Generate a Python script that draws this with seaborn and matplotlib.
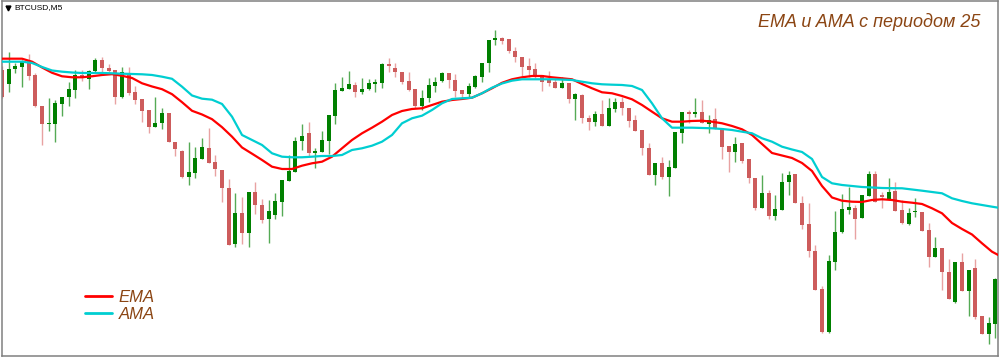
import matplotlib
matplotlib.use("Agg")
import matplotlib.pyplot as plt
from matplotlib.font_manager import FontProperties
import seaborn as sns
import pandas as pd
import numpy as np

# ---- candle data (BTCUSD, M5), price units ----
opens = [290, 276, 291, 293.3, 299.3, 285, 254, 235.7, 236, 256,
         262.7, 270, 285, 281, 289.3, 300, 291.7, 290, 263.3, 286.7,
         268.3, 260.7, 250, 233, 236.7, 247.3, 218, 209.3, 182.7, 186.7,
         201, 212.3, 197.7, 190, 172.3, 116, 147.3, 127, 168.3, 155,
         140.7, 145, 158.3, 179.3, 188.3, 219.3, 227.3, 207, 208.3, 219,
         244.3, 269.3, 271, 275, 268.3, 271, 276, 276.7, 295.7, 292.3,
         288.3, 279.3, 270.7, 254, 261.7, 274.3, 279, 286.7, 280, 270,
         266, 273.3, 283.3, 296.7, 320, 321.7, 320.7, 309.3, 303.3, 294,
         290.7, 285, 280, 277.7, 271.7, 276.7, 261, 265, 241.7, 237.7,
         245.7, 234.3, 250.7, 257.7, 252.3, 240, 230, 211.7, 185, 196.7,
         182.7, 191.7, 227.3, 247.7, 246, 248.3, 236, 240.7, 231.7, 214,
         208.3, 217.3, 201, 181.7, 151.7, 166.7, 144, 150, 177.7, 185.7,
         157.3, 135.7, 109, 70.7, 27.7, 98.3, 127.7, 150, 151.7, 141.7,
         164, 185.7, 165, 161, 169, 150, 136, 147.7, 147.7, 130,
         103.3, 112.3, 87.7, 58.3, 98.3, 69.3, 91.7, 44, 26, 36]
highs = [294, 307.7, 296.7, 300, 305.7, 286.7, 254, 262.3, 260, 263.3,
         278.3, 290, 290, 290, 302.3, 302.7, 295.7, 290, 293.3, 293.3,
         274.3, 261, 250, 263.3, 252.3, 247.3, 218.3, 210, 218.3, 213.3,
         221.7, 231.7, 205, 190, 180.7, 166.7, 163.3, 168, 177.5, 160.7,
         160, 167.3, 180, 205, 223.3, 236, 238.3, 212.3, 229, 245,
         276.7, 283.3, 289, 278.3, 281.7, 281, 281, 296.7, 301.7, 296.7,
         288.3, 288.3, 270.7, 270, 281.7, 282.7, 288.3, 286.7, 285.7, 270,
         276.7, 285, 296.7, 320, 330, 323.3, 320.7, 313.3, 303.3, 302.3,
         296.7, 285, 289, 281.7, 282.7, 276.7, 267.3, 265.7, 245, 249,
         260, 261.7, 261.7, 263.3, 252.3, 245, 230, 216.7, 197.3, 202.7,
         200, 227.7, 247.7, 250, 261.7, 260, 245, 251.7, 231.7, 214,
         222.7, 217.3, 201, 181.7, 185, 170, 165, 186.7, 189.3, 185.7,
         164, 157.3, 115, 74.3, 105, 149.3, 166, 173.3, 155, 165,
         189.3, 189.3, 168.3, 181.7, 177.7, 160, 151.7, 161.7, 147.7, 136.7,
         123.3, 112.3, 101, 98.3, 106.7, 90, 100.7, 44, 43.3, 81.7]
lows = [262, 267.7, 286.7, 272.7, 280, 253.3, 215, 229.3, 218.3, 244.3,
        254.3, 261.7, 279.3, 271, 288.3, 285, 287.7, 256, 261.7, 265,
        256, 238.3, 226.7, 233, 231, 217.7, 204, 182.3, 175, 182.3,
        201, 196.7, 184.3, 158.3, 115, 113.3, 116, 113, 146, 136.7,
        117.3, 140.7, 144.3, 179, 188, 210, 202.7, 192.3, 208, 205.7,
        236, 269, 271, 263.3, 265.7, 270, 268.3, 272.3, 288.3, 283.3,
        276, 269.3, 251.7, 250, 257.7, 268.3, 278.3, 271.7, 263.3, 261.7,
        261.7, 271.7, 278.3, 288.3, 315, 316, 306.7, 298.3, 284, 283.3,
        281.7, 269.3, 274, 271.7, 271.7, 257.3, 240, 237.3, 230, 234.3,
        234, 234.3, 248.3, 245, 233.3, 229.3, 205, 185, 175, 180.7,
        164.3, 191.7, 216.7, 236.7, 243.3, 236.7, 227.3, 231, 201, 187.7,
        198.3, 196.7, 177.3, 150, 151.7, 140.7, 140, 150, 165, 156.7,
        130.7, 102.7, 70, 27.3, 26.7, 90, 126.7, 146, 120.7, 141.7,
        164, 158.3, 151.7, 160, 149.3, 136, 135, 143.3, 129, 92.7,
        102.7, 70, 61, 57.3, 69.3, 44, 40.7, 26, 16, 21.7]
closes = [263, 291, 294.3, 299, 284.3, 254, 235.7, 237.3, 256.7, 263.3,
          270.7, 285, 281.7, 289, 300, 291.7, 289.3, 263.3, 288.3, 266.7,
          260, 249.3, 233.3, 237.3, 247.3, 218.3, 210.7, 182.7, 187.7, 201.7,
          212.7, 196.7, 191, 171.7, 115, 147.3, 126.7, 168, 154.5, 140,
          149, 159, 180, 189.3, 219, 224, 206.7, 209, 220, 245,
          270, 272.3, 276, 268.3, 271, 276.7, 277.3, 295.7, 293.7, 287.7,
          278.3, 270, 254, 262.3, 275, 278.3, 286.7, 280, 269.3, 266,
          274, 284, 296.7, 320, 321.7, 319, 309.3, 302.7, 293.3, 290,
          285, 278.3, 277.3, 272.3, 276.7, 261, 265.7, 241.7, 237.7, 245.7,
          234.3, 251.7, 257.7, 251.7, 239.3, 229.3, 211.7, 185, 196.7, 182.7,
          192.7, 227.7, 247.7, 246, 247.7, 236.7, 240, 231, 213.3, 208.3,
          216, 199.3, 181.7, 151.7, 166.7, 144, 150.7, 178.3, 185, 156.7,
          135, 109.3, 70, 28.3, 99, 128.3, 150.7, 153.3, 141, 165,
          185.7, 158.3, 163, 168.3, 149.3, 136.7, 147.3, 148.3, 129, 103.3,
          112.3, 87.7, 61, 98.3, 69.3, 90, 43.3, 26, 36.7, 80.7]

# ---- indicator lines (period 25), read every 1.5 bars ----
line_idx = [1.5 * k for k in range(101)]
ema_vals = [301.3, 301.3, 301.3, 298.3, 292.5, 287.2, 283.7, 282.7, 282.7, 283.7,
            285, 285.8, 284.2, 282, 276.7, 273.5, 270.8, 265.8, 257.8, 249.2,
            245.5, 240.8, 232.8, 223.3, 212.5, 206.3, 200, 193.3, 191, 191,
            194.3, 196.7, 198.3, 203.3, 211.7, 220, 226.7, 232.3, 238.3, 245,
            249, 251, 251.7, 255, 258.3, 260, 261, 262.3, 266.7, 271.7,
            277.2, 280.7, 282.7, 284, 284, 282.7, 281.7, 280.7, 276, 271.7,
            267.7, 266.7, 264, 260.7, 255, 248.3, 241.7, 238.3, 238.3, 239,
            239.3, 238.3, 236.7, 234, 230.7, 225, 216, 207, 204.5, 202,
            197, 189, 174, 162.5, 159.3, 158.3, 158, 160, 160.7, 160,
            158.3, 157.3, 156, 151.7, 146.7, 137, 131, 125.5, 116.7, 108.3,
            103]
ama_vals = [298.3, 298.3, 298.3, 297, 293, 289.5, 288.3, 287.5, 287, 287,
            287, 286.7, 286.3, 286, 285.7, 285, 283.3, 281.2, 273.3, 264.5,
            261.3, 260.3, 256, 243.3, 225, 220, 215, 206.7, 203.3, 202.7,
            202.7, 203.3, 204, 204, 205, 210, 211.7, 214.3, 218.3, 225,
            236.7, 241.7, 244.3, 250, 256.7, 261, 261.7, 262.3, 266.7, 272.3,
            276.5, 279.3, 280.7, 280.7, 280.7, 280.7, 280.4, 280, 278.3, 276.7,
            275.7, 275.3, 275, 274, 270, 256.7, 241.7, 232.3, 232.3, 232.3,
            232, 231.7, 231, 230, 228.3, 226.7, 221.7, 218.3, 213.3, 210.5,
            208, 201, 183, 176.7, 175, 174, 173, 172.5, 172, 171.8,
            171.7, 170.5, 169.3, 168, 166.7, 161.7, 159, 156.7, 155, 153.3,
            151.7]

title_text = "EMA и AMA с периодом 25"
symbol_text = "BTCUSD,M5"
brown = "#8B4513"

sns.set_style("white")
plt.rcParams["font.family"] = ["Liberation Sans", "DejaVu Sans"]

fig = plt.figure(figsize=(10, 3.58), dpi=100)
ax = fig.add_axes([0.0017, 0.0042, 0.9963, 0.9925])

df = pd.DataFrame({"o": opens, "h": highs, "l": lows, "c": closes})
df["i"] = np.arange(len(df))
up = df["c"] >= df["o"]

wick_cols = np.where(up, "#55AA55", "#E8A2A2")
body_cols = np.where(up, "#008000", "#CD5C5C")

ax.vlines(df["i"], df["l"], df["h"], colors=wick_cols, linewidth=1.0, zorder=1)
body_h = np.maximum((df["c"] - df["o"]).abs(), 1.5)
ax.bar(df["i"], body_h, bottom=np.minimum(df["o"], df["c"]), width=0.62,
       color=body_cols, linewidth=0, zorder=2)

sns.lineplot(x=line_idx, y=ema_vals, color="#FF0000", linewidth=1.6,
             ax=ax, label="EMA", estimator=None, zorder=3)
sns.lineplot(x=line_idx, y=ama_vals, color="#00CED1", linewidth=1.6,
             ax=ax, label="AMA", estimator=None, zorder=3)

ax.set_xlim(-0.05, 149.4)
ax.set_ylim(3.5, 358.8)
ax.set_xticks([])
ax.set_yticks([])
ax.set_xlabel("")
ax.set_ylabel("")
for s in ax.spines.values():
    s.set_color("#808080")
    s.set_linewidth(1.1)
    s.set_visible(True)

leg_font = FontProperties(family="Liberation Sans", style="italic", size=12)
leg = ax.legend(loc="center left", bbox_to_anchor=(0.085, 1 - 306 / 358),
                bbox_transform=fig.transFigure, frameon=False,
                handlelength=1.6, handletextpad=0.4, borderpad=0,
                borderaxespad=0, labelspacing=0.15, prop=leg_font)
for t in leg.get_texts():
    t.set_color(brown)
for h in leg.get_lines():
    h.set_linewidth(2.0)

fig.text(0.980, 1 - 22 / 358, title_text, ha="right", va="center",
         fontsize=13, style="italic", color=brown, family="Liberation Sans")
fig.text(0.0145, 1 - 7.5 / 358, symbol_text, ha="left", va="center",
         fontsize=6, color="black", family="Liberation Sans")
ax.plot([0.0075], [1 - 7.5 / 358], marker="v", color="black", markersize=3.5,
        transform=fig.transFigure, clip_on=False)

fig.savefig("out.png", dpi=100)
